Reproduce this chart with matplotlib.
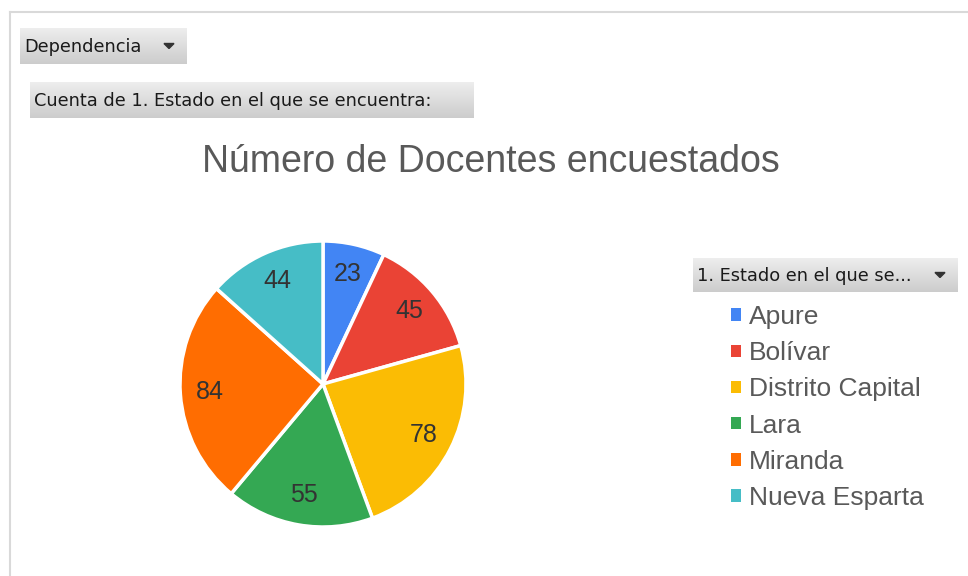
import matplotlib
matplotlib.use("Agg")
import matplotlib.pyplot as plt
import numpy as np
from matplotlib.patches import Polygon

plt.rcParams["font.family"] = ["Liberation Sans", "DejaVu Sans"]

# ---- data -----------------------------------------------------------
states = ["Apure", "Bolívar", "Distrito Capital", "Lara", "Miranda", "Nueva Esparta"]
counts = [23, 45, 78, 55, 84, 44]
colors = ["#4285F4", "#EA4335", "#FBBC04", "#34A853", "#FF6D01", "#46BDC6"]

title = "Número de Docentes encuestados"
filter_label = "Dependencia"
value_label = "Cuenta de 1. Estado en el que se encuentra:"
legend_title = "1. Estado en el que se..."

W, H = 968, 576
fig = plt.figure(figsize=(W / 100, H / 100), dpi=100)

# background axes in pixel coordinates (y down)
bg = fig.add_axes([0, 0, 1, 1])
bg.set_xlim(0, W)
bg.set_ylim(H, 0)
bg.axis("off")

# outer frame
bg.plot([10, W], [12, 12], color="#d9d9d9", lw=1.5)
bg.plot([10, 10], [12, H], color="#d9d9d9", lw=1.5)

grad = np.linspace(0.93, 0.80, 50).reshape(-1, 1)


def field_button(x0, y0, x1, y1, text, fs, arrow=True):
    bg.imshow(grad, cmap="gray", vmin=0, vmax=1, aspect="auto",
              extent=(x0, x1, y1, y0), zorder=1)
    bg.text(x0 + 4, (y0 + y1) / 2 + 1, text, ha="left", va="center",
            fontsize=fs, color="#1a1a1a", family=["DejaVu Sans"], zorder=2)
    if arrow:
        cx, cy = x1 - 18, (y0 + y1) / 2
        bg.add_patch(Polygon([[cx - 5, cy - 2.5], [cx + 5, cy - 2.5], [cx, cy + 2.5]],
                             closed=True, color="#333333", zorder=2))


field_button(20, 28, 187, 64, filter_label, 12.8)
field_button(30, 82, 474, 118, value_label, 12.8, arrow=False)
field_button(693, 258, 958, 292, legend_title, 12.8)
bg.set_xlim(0, W)
bg.set_ylim(H, 0)

# title
bg.text(491, 162, title, ha="center", va="center", fontsize=27, color="#595959")

# pie
cx, cy, r = 323, 384, 143
ax = fig.add_axes([(cx - r) / W, 1 - (cy + r) / H, 2 * r / W, 2 * r / H])
total = sum(counts)
wedges, _, autotexts = ax.pie(
    counts, colors=colors, startangle=90, counterclock=False,
    autopct=lambda p: f"{round(p * total / 100)}", pctdistance=0.79,
    wedgeprops=dict(edgecolor="white", linewidth=2.5),
    textprops=dict(fontsize=18, color="#333333"),
)
ax.set_xlim(-1, 1)
ax.set_ylim(-1, 1)

# legend
leg = fig.legend(wedges, states, loc="upper left",
                 bbox_to_anchor=(718 / W, 1 - 292 / H), frameon=False,
                 fontsize=19, handlelength=0.36, handleheight=0.36,
                 handletextpad=0.3, labelspacing=0.46, borderpad=0)
for t in leg.get_texts():
    t.set_color("#595959")
for h in leg.legend_handles:
    h.set_edgecolor("none")

fig.savefig("out.png", dpi=100)
